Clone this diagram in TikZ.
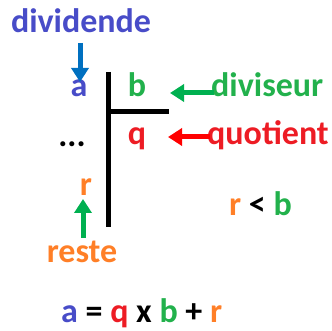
\documentclass[tikz,border=0pt]{standalone}
\usepackage{fontspec}
\setmainfont{Carlito}
\usetikzlibrary{arrows.meta}
\definecolor{cA}{RGB}{72,76,200}
\definecolor{cBlue}{RGB}{0,112,192}
\definecolor{cG}{RGB}{0,176,80}
\definecolor{cGt}{RGB}{34,177,76}
\definecolor{cR}{RGB}{237,28,36}
\definecolor{cO}{RGB}{255,127,39}
\tikzset{
  lbl/.style={inner sep=0pt, font=\fontsize{34}{40}\selectfont\bfseries},
  arr/.style={line width=5pt, -{Triangle[width=17pt,length=14pt]}},
  bar/.style={line width=5pt, black}
}
\begin{document}
\begin{tikzpicture}[x=1pt,y=-1pt]
\useasboundingbox (0,0) rectangle (332,331);
\node[lbl, text=cA, anchor=base] (dividende) at (81,33) {dividende};
\node[lbl, text=cA, anchor=base] (a) at (79,97) {a};
\node[lbl, text=cGt, anchor=base] (b) at (137,97) {b};
\node[lbl, text=cGt, anchor=base west] (diviseur) at (211,97) {diviseur};
\node[lbl, text=cR, anchor=base] (q) at (137,145) {q};
\node[lbl, text=cR, anchor=base west] (quotient) at (207,145) {quotient};
\node[lbl, anchor=base] (dots) at (72,147) {...};
\node[lbl, text=cO, anchor=base] (r) at (86,196) {r};
\node[lbl, text=cO, anchor=base] (reste) at (82,262) {reste};
\node[lbl, anchor=base west] (rltb) at (229,215) {\textcolor{cO}{r} < \textcolor{cGt}{b}};
\node[lbl, anchor=base west] (eq) at (61,322) {\textcolor{cA}{a} = \textcolor{cR}{q} x \textcolor{cGt}{b} + \textcolor{cO}{r}};
% division bars
\coordinate (vtop) at (108,72);
\coordinate (vbot) at (108,227);
\coordinate (hmid) at (108,112);
\coordinate (hend) at (169,112);
\draw[bar] (vtop) -- (vbot);
\draw[bar] (hmid) -- (hend);
% arrows
\coordinate (t1) at (80,43);
\coordinate (h1) at (80,82);
\draw[arr, cBlue] (t1) -- (h1);
\coordinate (t2) at (214,93);
\coordinate (h2) at (170,93);
\draw[arr, cG] (t2) -- (h2);
\coordinate (t3) at (210,137);
\coordinate (h3) at (168,137);
\draw[arr, red] (t3) -- (h3);
\coordinate (t4) at (83,238);
\coordinate (h4) at (83,199);
\draw[arr, cG] (t4) -- (h4);
\end{tikzpicture}
\end{document}
